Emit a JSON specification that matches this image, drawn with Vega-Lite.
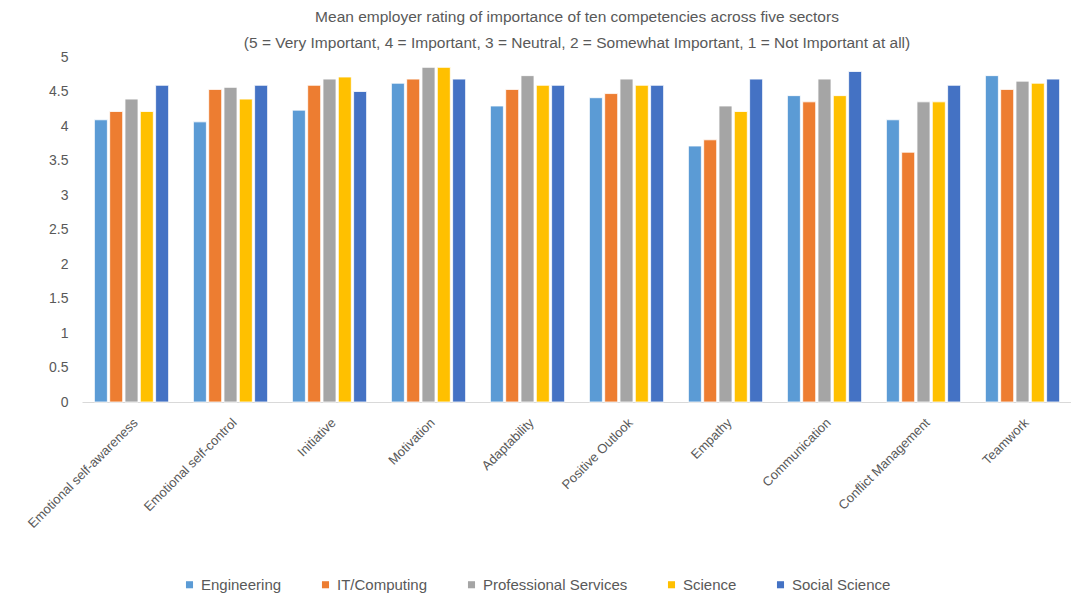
{
  "$schema": "https://vega.github.io/schema/vega-lite/v6.json",
  "autosize": {"type": "none"},
  "width": 990,
  "height": 345,
  "padding": {"left": 82, "top": 57, "right": 0, "bottom": 193},
  "background": "white",
  "title": {
    "text": ["Mean employer rating of importance of ten competencies across five sectors", "(5 = Very Important, 4 = Important, 3 = Neutral, 2 = Somewhat Important, 1 = Not Important at all)"],
    "fontSize": 15.5,
    "fontWeight": "normal",
    "font": "Liberation Sans",
    "color": "#595959",
    "lineHeight": 26,
    "anchor": "middle",
    "offset": -1
  },
  "data": {
    "values": [
      {"competency": "Emotional self-awareness", "sector": "Engineering", "rating": 4.09},
      {"competency": "Emotional self-awareness", "sector": "IT/Computing", "rating": 4.21},
      {"competency": "Emotional self-awareness", "sector": "Professional Services", "rating": 4.39},
      {"competency": "Emotional self-awareness", "sector": "Science", "rating": 4.21},
      {"competency": "Emotional self-awareness", "sector": "Social Science", "rating": 4.59},
      {"competency": "Emotional self-control", "sector": "Engineering", "rating": 4.06},
      {"competency": "Emotional self-control", "sector": "IT/Computing", "rating": 4.53},
      {"competency": "Emotional self-control", "sector": "Professional Services", "rating": 4.56},
      {"competency": "Emotional self-control", "sector": "Science", "rating": 4.39},
      {"competency": "Emotional self-control", "sector": "Social Science", "rating": 4.59},
      {"competency": "Initiative", "sector": "Engineering", "rating": 4.23},
      {"competency": "Initiative", "sector": "IT/Computing", "rating": 4.59},
      {"competency": "Initiative", "sector": "Professional Services", "rating": 4.68},
      {"competency": "Initiative", "sector": "Science", "rating": 4.71},
      {"competency": "Initiative", "sector": "Social Science", "rating": 4.5},
      {"competency": "Motivation", "sector": "Engineering", "rating": 4.62},
      {"competency": "Motivation", "sector": "IT/Computing", "rating": 4.68},
      {"competency": "Motivation", "sector": "Professional Services", "rating": 4.85},
      {"competency": "Motivation", "sector": "Science", "rating": 4.85},
      {"competency": "Motivation", "sector": "Social Science", "rating": 4.68},
      {"competency": "Adaptability", "sector": "Engineering", "rating": 4.29},
      {"competency": "Adaptability", "sector": "IT/Computing", "rating": 4.53},
      {"competency": "Adaptability", "sector": "Professional Services", "rating": 4.73},
      {"competency": "Adaptability", "sector": "Science", "rating": 4.59},
      {"competency": "Adaptability", "sector": "Social Science", "rating": 4.59},
      {"competency": "Positive Outlook", "sector": "Engineering", "rating": 4.41},
      {"competency": "Positive Outlook", "sector": "IT/Computing", "rating": 4.47},
      {"competency": "Positive Outlook", "sector": "Professional Services", "rating": 4.68},
      {"competency": "Positive Outlook", "sector": "Science", "rating": 4.59},
      {"competency": "Positive Outlook", "sector": "Social Science", "rating": 4.59},
      {"competency": "Empathy", "sector": "Engineering", "rating": 3.71},
      {"competency": "Empathy", "sector": "IT/Computing", "rating": 3.8},
      {"competency": "Empathy", "sector": "Professional Services", "rating": 4.29},
      {"competency": "Empathy", "sector": "Science", "rating": 4.21},
      {"competency": "Empathy", "sector": "Social Science", "rating": 4.68},
      {"competency": "Communication", "sector": "Engineering", "rating": 4.44},
      {"competency": "Communication", "sector": "IT/Computing", "rating": 4.35},
      {"competency": "Communication", "sector": "Professional Services", "rating": 4.68},
      {"competency": "Communication", "sector": "Science", "rating": 4.44},
      {"competency": "Communication", "sector": "Social Science", "rating": 4.79},
      {"competency": "Conflict Management", "sector": "Engineering", "rating": 4.09},
      {"competency": "Conflict Management", "sector": "IT/Computing", "rating": 3.62},
      {"competency": "Conflict Management", "sector": "Professional Services", "rating": 4.35},
      {"competency": "Conflict Management", "sector": "Science", "rating": 4.35},
      {"competency": "Conflict Management", "sector": "Social Science", "rating": 4.59},
      {"competency": "Teamwork", "sector": "Engineering", "rating": 4.73},
      {"competency": "Teamwork", "sector": "IT/Computing", "rating": 4.53},
      {"competency": "Teamwork", "sector": "Professional Services", "rating": 4.65},
      {"competency": "Teamwork", "sector": "Science", "rating": 4.62},
      {"competency": "Teamwork", "sector": "Social Science", "rating": 4.68}
    ]
  },
  "mark": {"type": "bar", "stroke": "white", "strokeWidth": 0.8},
  "encoding": {
    "x": {
      "field": "competency",
      "type": "nominal",
      "sort": null,
      "scale": {"paddingInner": 0.25, "paddingOuter": 0.125},
      "axis": {
        "title": null,
        "labelAngle": -45,
        "labelFontSize": 13,
        "labelFont": "Liberation Sans",
        "labelColor": "#595959",
        "ticks": false,
        "domainColor": "#D9D9D9",
        "labelPadding": 14
      }
    },
    "xOffset": {
      "field": "sector",
      "type": "nominal",
      "sort": null,
      "scale": {"paddingInner": 0.15}
    },
    "y": {
      "field": "rating",
      "type": "quantitative",
      "scale": {"domain": [0, 5]},
      "axis": {
        "title": null,
        "values": [0, 0.5, 1, 1.5, 2, 2.5, 3, 3.5, 4, 4.5, 5],
        "format": "~g",
        "grid": false,
        "domain": false,
        "ticks": false,
        "labelFontSize": 14,
        "labelFont": "Liberation Sans",
        "labelColor": "#595959",
        "labelPadding": 14
      }
    },
    "color": {
      "field": "sector",
      "type": "nominal",
      "sort": null,
      "scale": {
        "domain": ["Engineering", "IT/Computing", "Professional Services", "Science", "Social Science"],
        "range": ["#5B9BD5", "#ED7D31", "#A5A5A5", "#FFC000", "#4472C4"]
      },
      "legend": {
        "title": null,
        "orient": "none",
        "legendX": 100,
        "legendY": 520,
        "direction": "horizontal",
        "columns": 5,
        "symbolType": "square",
        "symbolSize": 50,
        "symbolStrokeWidth": 0,
        "labelFontSize": 15,
        "labelFont": "Liberation Sans",
        "labelColor": "#595959",
        "columnPadding": 36
      }
    }
  },
  "config": {"view": {"stroke": null}}
}
